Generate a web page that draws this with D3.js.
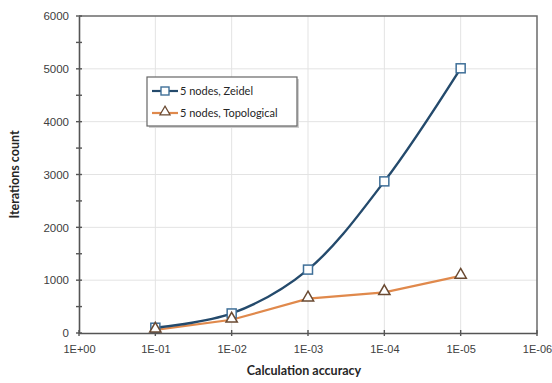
<!DOCTYPE html>
<html>
<head>
<meta charset="utf-8">
<script src="https://cdn.jsdelivr.net/npm/d3@7"></script>
<style>
  body { margin: 0; background: #fff; }
  svg { display: block; font-family: Lato, "Open Sans", sans-serif; }
</style>
</head>
<body>
<div id="chart"></div>
<script>
// Tick labels for the x axis (position index -> label)
const xLabels = ['1E+00', '1E-01', '1E-02', '1E-03', '1E-04', '1E-05', '1E-06'];
// Points sit at 1E-01 .. 1E-05
const xIndex = [1, 2, 3, 4, 5];
const zeidel = [100, 370, 1200, 2870, 5010];
const topological = [60, 250, 650, 770, 1080];
const yTicks = [0, 1000, 2000, 3000, 4000, 5000, 6000];

const width = 552, height = 383;
const margin = { top: 16, right: 15, bottom: 50, left: 79 };

const svg = d3.select('#chart').append('svg')
  .attr('width', width)
  .attr('height', height);

const x = d3.scaleLinear().domain([0, 6]).range([margin.left, width - margin.right]);
const y = d3.scaleLinear().domain([0, 6000]).range([height - margin.bottom, margin.top]);

// Gridlines
const grid = svg.append('g').attr('stroke', '#e3e3e3').attr('stroke-width', 1);
grid.selectAll('.vg').data(d3.range(1, 6)).enter().append('line')
  .attr('x1', d => x(d)).attr('x2', d => x(d))
  .attr('y1', y(0)).attr('y2', y(6000));
grid.selectAll('.hg').data(yTicks.slice(1, -1)).enter().append('line')
  .attr('x1', x(0)).attr('x2', x(6))
  .attr('y1', d => y(d)).attr('y2', d => y(d));

// Plot area border (top, right)
svg.append('path')
  .attr('d', `M${x(0)},${y(6000)}H${x(6)}V${y(0)}`)
  .attr('fill', 'none')
  .attr('stroke', '#6b6b6b')
  .attr('stroke-width', 1.5);

// Axes
const xAxis = svg.append('g')
  .attr('transform', `translate(0,${y(0)})`)
  .call(d3.axisBottom(x).ticks(6).tickFormat(i => xLabels[i]).tickSize(0).tickPadding(12));
xAxis.select('.domain').attr('stroke', '#555').attr('stroke-width', 1.6);
xAxis.selectAll('text').attr('fill', '#404040').style('font-size', '11px');
// crossing ticks on x axis
svg.append('g').selectAll('line').data(d3.range(0, 7)).enter().append('line')
  .attr('x1', d => x(d)).attr('x2', d => x(d))
  .attr('y1', y(0) - 3).attr('y2', y(0) + 3)
  .attr('stroke', '#555').attr('stroke-width', 1.4);

const yAxis = svg.append('g')
  .attr('transform', `translate(${x(0)},0)`)
  .call(d3.axisLeft(y).tickValues(yTicks).tickFormat(d3.format('d')).tickSize(0).tickPadding(10));
yAxis.select('.domain').attr('stroke', '#555').attr('stroke-width', 1.6);
yAxis.selectAll('text').attr('fill', '#404040').style('font-size', '11.5px');
// crossing ticks on y axis (major and minor)
svg.append('g').selectAll('line').data(d3.range(0, 6001, 500)).enter().append('line')
  .attr('x1', x(0) - 3).attr('x2', x(0) + 3)
  .attr('y1', d => y(d)).attr('y2', d => y(d))
  .attr('stroke', '#555').attr('stroke-width', 1.4);

// Axis titles
svg.append('text')
  .attr('x', (x(0) + x(6)) / 2 - 4)
  .attr('y', 375)
  .attr('text-anchor', 'middle')
  .attr('fill', '#262626')
  .style('font-size', '12.5px')
  .style('font-weight', 'bold')
  .text('Calculation accuracy');

svg.append('text')
  .attr('transform', `translate(19,${(y(0) + y(6000)) / 2}) rotate(-90)`)
  .attr('text-anchor', 'middle')
  .attr('fill', '#262626')
  .style('font-size', '12.5px')
  .style('font-weight', 'bold')
  .text('Iterations count');

// Series
const zData = xIndex.map((d, i) => [d, zeidel[i]]);
const tData = xIndex.map((d, i) => [d, topological[i]]);

svg.append('path')
  .datum(tData)
  .attr('fill', 'none')
  .attr('stroke', '#e0894c')
  .attr('stroke-width', 2.2)
  .attr('d', d3.line().x(d => x(d[0])).y(d => y(d[1])));

svg.append('path')
  .datum(zData)
  .attr('fill', 'none')
  .attr('stroke', '#244a6c')
  .attr('stroke-width', 2.4)
  .attr('d', d3.line().curve(d3.curveCatmullRom.alpha(0.5)).x(d => x(d[0])).y(d => y(d[1])));

const sq = 9;
svg.append('g').selectAll('rect').data(zData).enter().append('rect')
  .attr('x', d => x(d[0]) - sq / 2)
  .attr('y', d => y(d[1]) - sq / 2)
  .attr('width', sq).attr('height', sq)
  .attr('fill', '#fff')
  .attr('stroke', '#3f6f98')
  .attr('stroke-width', 1.5);

const tri = d3.symbol().type(d3.symbolTriangle).size(55);
svg.append('g').selectAll('path').data(tData).enter().append('path')
  .attr('transform', d => `translate(${x(d[0])},${y(d[1]) - 1})`)
  .attr('d', tri)
  .attr('fill', '#fff')
  .attr('stroke', '#6a4a32')
  .attr('stroke-width', 1.5);

// Legend
const lg = svg.append('g').attr('transform', 'translate(147,77)');
lg.append('rect').attr('x', 2).attr('y', 2).attr('width', 150).attr('height', 49)
  .attr('fill', '#cfcfcf');
lg.append('rect').attr('width', 150).attr('height', 49)
  .attr('fill', '#fff').attr('stroke', '#666').attr('stroke-width', 1.2);

const legendItems = [
  { name: '5 nodes, Zeidel', color: '#244a6c', marker: 'square' },
  { name: '5 nodes, Topological', color: '#e0894c', marker: 'triangle' }
];
legendItems.forEach((it, i) => {
  const ly = 14 + i * 22;
  lg.append('line').attr('x1', 5).attr('x2', 31).attr('y1', ly).attr('y2', ly)
    .attr('stroke', it.color).attr('stroke-width', 2.2);
  if (it.marker === 'square') {
    lg.append('rect').attr('x', 18 - 4).attr('y', ly - 4).attr('width', 8).attr('height', 8)
      .attr('fill', '#fff').attr('stroke', '#3f6f98').attr('stroke-width', 1.4);
  } else {
    lg.append('path').attr('transform', `translate(18,${ly - 1})`)
      .attr('d', d3.symbol().type(d3.symbolTriangle).size(45))
      .attr('fill', '#fff').attr('stroke', '#6a4a32').attr('stroke-width', 1.2);
  }
  lg.append('text').attr('x', 33).attr('y', ly + 4)
    .attr('fill', '#262626').style('font-size', '11px')
    .text(it.name);
});
</script>
</body>
</html>
